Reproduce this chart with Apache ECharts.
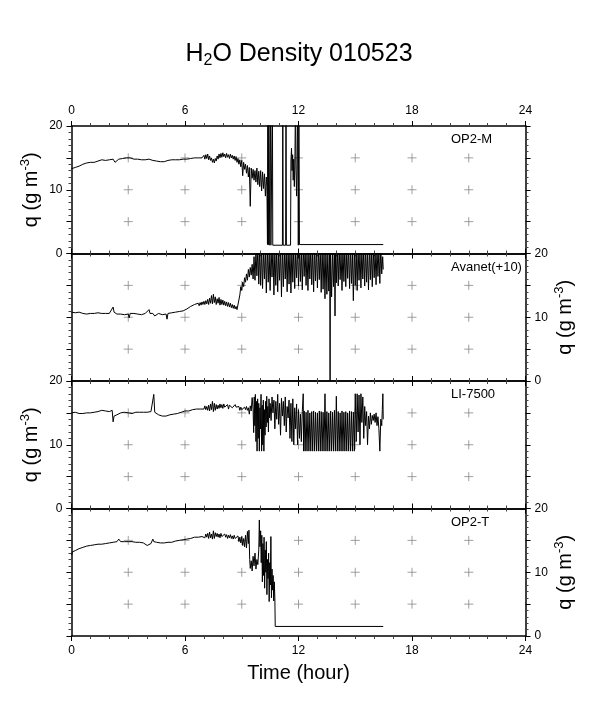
<!DOCTYPE html>
<html><head><meta charset="utf-8">
<script src="https://cdn.jsdelivr.net/npm/echarts@6/dist/echarts.min.js"></script>
<style>html,body{margin:0;padding:0;background:#fff}#c{width:598px;height:709px}</style>
</head><body><div id="c"></div>
<script>
// ---- data (hour, q g m-3) ----
const crossHours = [3,6,9,12,15,18,21];
const crossLevels = [5,10,15];
const panelNames = ['OP2-M','Avanet(+10)','LI-7500','OP2-T'];

const op2m = [[0,13.3],[0.1,13.6],[0.2,13.5],[0.3,13.8],[0.4,13.7],[0.5,13.9],[0.6,14.0],[0.7,13.8],[0.8,14.2],[0.9,14.1],
[1.0,14.3],[1.1,14.4],[1.2,14.3],[1.3,14.6],[1.4,14.5],[1.5,14.6],[1.6,14.7],[1.7,14.5],[1.8,14.6],[1.9,14.4],
[2.0,14.7],[2.1,14.6],[2.2,14.8],[2.3,14.3],[2.4,14.6],[2.5,14.8],[2.6,14.7],[2.7,14.9],[2.8,14.8],[2.9,15.0],
[3.0,14.9],[3.1,15.0],[3.2,14.8],[3.3,14.8],[3.4,14.7],[3.5,14.8],[3.6,14.6],[3.7,14.7],[3.8,14.5],[3.9,14.7],
[4.0,14.6],[4.1,14.8],[4.2,14.5],[4.3,14.6],[4.4,14.4],[4.5,14.5],[4.6,14.3],[4.7,14.4],[4.8,14.5],[4.9,14.4],
[5.0,14.5],[5.1,14.6],[5.2,14.5],[5.3,14.7],[5.4,14.6],[5.5,14.7],[5.6,14.8],[5.7,14.7],[5.8,14.9],[5.9,14.8],
[6.0,14.9],[6.1,14.8],[6.2,15.0],[6.3,14.9],[6.4,15.1],[6.5,15.0],[6.6,15.2],[6.7,15.0],[6.8,15.3],[6.9,15.0],
[7.00,15.4],[7.05,14.8],[7.10,15.5],[7.15,14.9],[7.20,15.6],[7.25,14.7],[7.30,15.3],[7.35,14.6],[7.40,15.0],[7.45,14.3],
[7.50,14.8],[7.55,14.2],[7.60,14.9],[7.65,14.5],[7.70,15.3],[7.75,14.8],[7.80,15.6],[7.85,15.0],[7.90,15.7],[7.95,15.1],
[8.00,15.8],[8.05,15.2],[8.10,15.6],[8.15,15.0],[8.20,15.7],[8.25,15.1],[8.30,15.5],[8.35,14.9],[8.40,15.6],[8.45,15.0],
[8.50,15.4],[8.55,14.8],[8.60,15.3],[8.65,14.6],[8.70,15.2],[8.75,14.3],[8.80,14.9],[8.85,14.0],[8.90,14.7],[8.95,13.6],
[9.00,14.6],[9.05,12.2],[9.10,14.3],[9.15,13.2],[9.20,14.0],[9.25,12.6],[9.30,13.8],[9.35,12.0],[9.40,13.5],[9.45,7.4],
[9.50,13.4],[9.55,11.8],[9.60,13.2],[9.65,11.5],[9.70,13.0],[9.75,11.2],[9.80,13.4],[9.85,10.8],[9.90,12.9],[9.95,10.5],
[10.00,13.0],[10.05,9.8],[10.10,12.8],[10.15,10.2],[10.20,12.5],[10.25,9.0],[10.30,12.0],[10.33,10.5],
[10.36,1.4],[10.38,25],[10.40,1.4],[10.43,25],[10.45,1.3],[10.50,1.3],[10.52,25],[10.54,1.3],[10.60,1.3],[10.62,25],[10.64,1.3],
[11.15,1.3],[11.17,25],[11.19,1.3],[11.32,1.3],[11.34,25],[11.36,1.3],[11.58,1.3],[11.60,14.5],[11.63,16.5],[11.66,13.0],
[11.69,15.5],[11.72,11.5],[11.75,14.8],[11.78,10.5],[11.81,14.0],[11.84,25],[11.87,13.0],[11.90,9.0],[11.93,14.0],[11.96,25],
[11.99,1.3],[12.02,25],[12.05,1.4],[12.10,1.4],[16.48,1.4]];

const avanet = [[0,10.8],[0.1,10.6],[0.2,10.7],[0.3,10.5],[0.4,10.8],[0.5,10.7],[0.6,10.6],[0.7,10.8],[0.8,10.5],[0.9,10.7],
[1.0,10.6],[1.1,10.4],[1.2,10.6],[1.3,10.5],[1.4,10.7],[1.5,10.5],[1.6,10.6],[1.7,10.4],[1.8,10.6],[1.9,10.5],
[2.0,10.6],[2.1,10.7],[2.2,11.6],[2.25,10.8],[2.3,10.6],[2.4,10.5],[2.5,10.6],[2.6,10.5],[2.7,10.6],[2.8,10.4],[2.9,10.6],
[3.0,10.5],[3.05,9.9],[3.1,10.6],[3.2,10.5],[3.3,10.6],[3.4,10.3],[3.5,10.5],[3.6,10.6],[3.7,10.4],[3.8,10.5],[3.9,10.6],
[4.0,10.5],[4.1,11.2],[4.15,10.6],[4.2,10.5],[4.3,10.6],[4.4,10.2],[4.5,10.5],[4.6,10.6],[4.7,10.5],[4.8,10.4],[4.9,10.6],
[5.0,10.5],[5.05,9.7],[5.1,10.6],[5.2,10.5],[5.3,10.7],[5.4,10.6],[5.5,10.8],[5.6,10.7],[5.7,10.9],[5.8,10.8],[5.9,11.0],
[6.0,11.0],[6.1,11.3],[6.2,11.4],[6.3,11.7],[6.4,11.8],[6.5,12.0],[6.6,11.9],[6.7,12.2],
[6.75,11.8],[6.80,12.3],[6.85,11.9],[6.90,12.4],[6.95,12.0],[7.00,12.5],[7.05,12.0],[7.10,12.6],[7.15,12.1],[7.20,12.8],
[7.25,12.0],[7.30,13.0],[7.35,12.2],[7.40,13.4],[7.45,12.1],[7.50,13.6],[7.55,12.3],[7.60,13.2],[7.65,12.0],[7.70,12.9],
[7.75,12.2],[7.80,13.1],[7.85,11.9],[7.90,12.8],[7.95,12.0],[8.00,12.7],[8.05,11.9],[8.10,12.5],[8.15,11.8],[8.20,12.4],
[8.25,11.7],[8.30,12.3],[8.35,11.6],[8.40,12.2],[8.45,11.5],[8.50,12.0],[8.55,11.4],[8.60,11.9],[8.65,11.3],[8.70,11.7],
[8.75,11.2],[8.80,11.5],[8.85,11.3],
[8.90,13.5],[8.95,14.8],[9.00,14.2],[9.05,15.5],[9.10,14.8],[9.15,16.2],[9.20,15.5],[9.25,16.8],[9.30,15.8],[9.35,17.5],
[9.40,16.3],[9.45,17.8],[9.50,16.6],[9.55,18.3],[9.60,16.0],[9.65,19.5],[9.70,15.8],[9.75,20.5],[9.80,16.5],[9.85,21],
[9.90,15.2],[9.95,20.8],
[10.00,15.0],[10.05,21],[10.10,14.5],[10.15,20.5],[10.20,16.0],[10.25,21],[10.30,13.8],[10.35,21],[10.40,15.5],[10.45,20],
[10.50,14.2],[10.55,21],[10.60,16.3],[10.65,21],[10.70,13.5],[10.75,20.8],[10.80,15.0],[10.85,21],[10.90,14.0],[10.95,20.5],
[11.00,15.8],[11.05,21],[11.10,13.2],[11.15,21],[11.20,14.8],[11.25,20.2],[11.30,16.0],[11.35,21],[11.40,14.0],[11.45,21],
[11.50,15.2],[11.55,20.6],[11.60,13.8],[11.65,21],[11.70,15.5],[11.75,21],[11.80,14.5],[11.85,20.4],[11.90,16.2],[11.95,21],
[12.00,14.9],[12.05,21],[12.10,15.6],[12.15,20.8],[12.20,14.3],[12.25,21],[12.30,16.4],[12.35,21],[12.40,15.0],[12.45,20.3],
[12.50,14.2],[12.55,21],[12.60,16.0],[12.65,21],[12.70,15.1],[12.75,20.7],[12.80,14.0],[12.85,21],[12.90,15.7],[12.95,21],
[13.00,14.6],[13.05,20.5],[13.10,15.9],[13.15,21],[13.20,13.9],[13.25,21],[13.30,14.4],[13.35,20.6],[13.40,12.9],[13.45,21],
[13.50,13.6],[13.55,20.2],[13.60,14.1],[13.65,21],[13.67,0.0],[13.69,21],[13.75,13.2],[13.80,20.5],[13.85,14.8],[13.90,21],
[13.93,10.2],[13.96,21],[14.00,15.4],[14.05,20.8],[14.10,14.9],[14.15,21],[14.20,15.9],[14.25,20.4],[14.30,14.2],[14.35,21],
[14.40,15.6],[14.45,21],[14.50,14.8],[14.55,20.6],[14.60,16.1],[14.65,21],[14.70,14.5],[14.75,21],[14.80,15.3],[14.85,20.3],
[14.90,12.6],[14.95,21],[15.00,15.0],[15.05,20.9],[15.10,14.2],[15.15,21],[15.20,15.8],[15.25,20.5],[15.30,14.6],[15.35,21],
[15.40,16.0],[15.45,20.7],[15.50,14.9],[15.55,21],[15.60,15.5],[15.65,20.2],[15.70,14.3],[15.75,21],[15.80,15.9],[15.85,20.8],
[15.90,14.8],[15.95,21],[16.00,16.2],[16.05,20.5],[16.10,15.1],[16.15,21],[16.20,16.4],[16.25,20.6],[16.30,15.3],[16.35,21],
[16.40,16.8],[16.45,19.5],[16.48,17.5]];

const li7500 = [[0,15.0],[0.1,14.9],[0.2,15.1],[0.3,14.8],[0.4,14.9],[0.5,14.7],[0.6,14.9],[0.7,14.8],[0.8,15.0],[0.9,15.1],
[1.0,15.0],[1.1,15.2],[1.2,15.1],[1.3,15.3],[1.4,15.2],[1.5,15.3],[1.6,15.4],[1.7,15.2],[1.8,15.3],[1.9,15.1],
[2.0,15.2],[2.1,14.9],[2.15,15.4],[2.2,13.6],[2.25,14.5],[2.3,14.2],[2.4,14.7],[2.5,14.9],[2.6,15.0],[2.7,14.9],[2.8,15.1],[2.9,15.0],
[3.0,15.0],[3.1,15.1],[3.2,14.9],[3.3,15.0],[3.4,15.1],[3.5,15.0],[3.6,15.1],[3.7,15.0],[3.8,15.1],[3.9,15.2],
[4.0,15.1],[4.1,15.3],[4.2,15.2],[4.3,15.4],[4.35,17.9],[4.4,15.1],[4.5,14.8],[4.6,14.7],[4.7,14.6],[4.8,14.5],[4.9,14.6],
[5.0,14.5],[5.1,14.6],[5.2,14.7],[5.3,14.6],[5.4,14.8],[5.5,14.8],[5.6,14.9],[5.7,15.0],[5.8,15.1],[5.9,15.2],
[6.0,15.3],[6.1,15.4],[6.2,15.3],[6.3,15.6],[6.4,15.5],[6.5,15.7],[6.6,15.6],[6.7,15.8],[6.8,15.6],[6.9,15.9],
[7.00,15.6],[7.05,16.1],[7.10,15.5],[7.15,16.0],[7.20,15.4],[7.25,16.2],[7.30,15.3],[7.35,16.4],[7.40,15.5],[7.45,16.8],
[7.50,15.2],[7.55,16.5],[7.60,15.4],[7.65,16.3],[7.70,15.6],[7.75,16.2],[7.80,15.7],[7.85,16.4],[7.90,15.8],[7.95,16.3],
[8.00,15.7],[8.05,16.4],[8.10,15.9],[8.15,16.2],[8.20,15.8],[8.25,16.3],[8.30,15.6],[8.35,16.2],[8.40,15.9],[8.45,16.4],
[8.50,15.8],[8.55,16.1],[8.60,15.7],[8.65,16.3],[8.70,15.9],[8.75,16.2],[8.80,15.6],[8.85,16.0],[8.90,15.4],[8.95,15.9],
[9.00,15.5],[9.05,15.8],[9.10,15.4],[9.15,15.9],[9.20,15.5],[9.25,16.0],[9.30,15.4],[9.35,15.8],[9.40,14.8],[9.45,16.1],
[9.50,15.3],[9.55,17.4],[9.60,15.5],
[9.63,11.9],[9.66,17.5],[9.69,13.0],[9.72,17.9],[9.75,10.5],[9.78,16.8],[9.81,9.0],[9.84,17.2],[9.87,11.0],[9.90,16.5],
[9.93,9.0],[9.96,15.8],[9.99,12.5],[10.02,17.9],[10.05,9.0],[10.08,16.2],[10.11,10.0],[10.14,17.0],[10.17,9.0],[10.20,15.5],
[10.23,11.5],[10.26,16.8],[10.29,12.8],[10.32,17.6],[10.35,13.5],[10.38,16.0],[10.41,12.0],[10.44,17.2],[10.47,14.2],[10.50,16.5],
[10.55,13.8],[10.60,17.5],[10.65,15.0],[10.70,17.0],[10.75,12.5],[10.80,16.8],[10.85,14.0],[10.90,17.9],[10.95,13.2],[11.00,16.5],
[11.05,11.5],[11.10,17.3],[11.15,14.5],[11.20,16.8],[11.25,13.0],[11.30,17.5],[11.35,12.0],[11.40,16.0],[11.45,14.2],[11.50,17.0],
[11.55,11.0],[11.60,16.5],[11.65,10.5],[11.70,17.2],[11.75,10.0],[11.80,15.8],[11.85,12.5],[11.90,16.4],[11.95,10.0],[12.00,15.5],
[12.05,11.0],[12.10,14.8],[12.15,10.5],[12.20,15.2],[12.25,18.0],[12.27,9.0],
[12.30,15.3],[12.35,9.0],[12.40,15.1],[12.45,9.0],[12.50,15.4],[12.55,9.0],[12.60,15.0],[12.65,9.0],[12.70,15.2],[12.75,9.0],
[12.80,15.3],[12.85,9.0],[12.90,15.1],[12.95,9.0],[13.00,15.0],[13.05,9.0],[13.10,15.3],[13.15,9.0],[13.20,15.2],[13.25,9.0],
[13.30,15.1],[13.35,9.0],[13.40,18.0],[13.45,9.0],[13.50,15.2],[13.55,9.0],[13.60,15.0],[13.65,9.0],[13.70,15.3],[13.75,9.0],
[13.80,15.1],[13.85,9.0],[13.90,15.4],[13.95,9.0],[14.00,17.6],[14.05,9.0],[14.10,15.2],[14.15,9.0],[14.20,15.0],[14.25,9.0],
[14.30,15.3],[14.35,9.0],[14.40,15.1],[14.45,9.0],[14.50,15.2],[14.55,9.0],[14.60,15.0],[14.65,9.0],[14.70,15.3],[14.75,9.0],
[14.80,15.2],[14.85,9.0],[14.90,15.1],[14.95,9.0],
[15.00,18.0],[15.05,10.5],[15.10,18.0],[15.15,12.0],[15.20,17.8],[15.25,10.0],[15.30,18.0],[15.35,13.5],[15.40,17.5],[15.45,11.0],
[15.50,16.0],[15.55,13.0],[15.60,15.2],[15.65,10.0],[15.70,14.5],[15.75,12.5],[15.80,15.0],[15.85,13.2],[15.90,14.6],[15.95,13.8],
[16.00,14.8],[16.05,13.5],[16.10,15.0],[16.15,13.0],[16.20,14.4],[16.25,12.5],[16.30,9.0],[16.35,14.0],[16.40,13.0],[16.43,15.5],
[16.46,18.0],[16.48,14.0]];

const op2t = [[0,12.7],[0.05,13.2],[0.1,13.0],[0.2,13.4],[0.3,13.3],[0.4,13.7],[0.5,13.6],[0.6,13.9],[0.7,13.8],[0.8,14.1],[0.9,13.9],
[1.0,14.2],[1.1,14.0],[1.2,14.3],[1.3,14.2],[1.4,14.4],[1.5,14.3],[1.6,14.4],[1.7,14.3],[1.8,14.5],[1.9,14.4],
[2.0,14.6],[2.1,14.5],[2.2,14.7],[2.3,14.6],[2.4,14.8],[2.5,15.2],[2.6,14.8],[2.7,14.9],[2.8,14.8],[2.9,14.7],
[3.0,14.8],[3.1,14.7],[3.2,14.8],[3.3,14.6],[3.4,14.7],[3.5,14.6],[3.6,14.7],[3.7,14.5],[3.8,14.6],[3.9,14.4],
[4.0,14.2],[4.05,14.0],[4.1,14.2],[4.2,14.5],[4.3,15.2],[4.35,14.8],[4.4,14.6],[4.5,14.7],[4.6,14.6],[4.7,14.6],[4.8,14.7],[4.9,14.6],
[5.0,14.7],[5.1,14.7],[5.2,14.8],[5.3,14.7],[5.4,14.8],[5.5,14.9],[5.6,14.9],[5.7,15.0],[5.8,15.0],[5.9,15.1],
[6.0,15.1],[6.1,15.2],[6.2,15.3],[6.3,15.3],[6.4,15.4],[6.5,15.5],[6.6,15.6],[6.7,15.5],[6.8,15.7],[6.9,15.6],
[7.00,15.9],[7.05,15.4],[7.10,16.0],[7.15,15.5],[7.20,16.1],[7.25,15.3],[7.30,16.3],[7.35,15.4],[7.40,16.0],[7.45,15.2],
[7.50,16.5],[7.55,15.3],[7.60,16.2],[7.65,15.6],[7.70,16.1],[7.75,15.5],[7.80,16.0],[7.85,15.4],[7.90,16.1],[7.95,15.6],
[8.00,15.9],[8.05,15.4],[8.10,16.0],[8.15,15.5],[8.20,15.9],[8.25,15.3],[8.30,15.8],[8.35,15.4],[8.40,15.9],[8.45,15.3],
[8.50,15.7],[8.55,15.2],[8.60,15.8],[8.65,15.3],[8.70,15.6],[8.75,15.0],[8.80,15.7],[8.85,14.8],[8.90,15.5],[8.95,14.6],
[9.00,15.6],[9.05,14.2],[9.10,15.3],[9.15,14.0],[9.20,15.8],[9.25,13.8],[9.30,16.4],[9.35,14.5],[9.38,16.6],[9.42,12.0],
[9.45,10.6],[9.50,11.8],[9.55,10.2],[9.60,12.5],[9.65,11.0],[9.70,13.0],[9.75,10.5],[9.80,12.0],[9.85,11.2],[9.90,13.5],
[9.93,18.2],[9.96,14.0],[10.00,16.5],[10.03,11.5],[10.06,15.8],[10.09,8.5],[10.12,14.5],[10.15,9.5],[10.18,15.5],[10.21,7.5],
[10.24,13.5],[10.27,10.0],[10.30,14.8],[10.33,6.5],[10.36,12.0],[10.39,9.0],[10.42,13.0],[10.45,5.4],[10.48,11.5],[10.51,8.0],
[10.54,15.6],[10.57,6.0],[10.60,10.5],[10.63,7.2],[10.66,9.5],[10.69,5.5],[10.72,8.5],[10.75,6.0],[10.77,1.5],[16.48,1.5]];

const panelData = [op2m, avanet, li7500, op2t];

// ---- layout ----
const FONT = '"Liberation Sans", Arial, Helvetica, sans-serif';
const LEFT = 71.5, WIDTH = 454, H = 127.5;
const TOPS = [126, 253.5, 381, 508.5];
const labelSide = ['left','right','left','right'];
const labelY = [139, 267, 394, 522];

const grids = [], xAxes = [], yAxes = [], series = [], graphics = [];
const qName = '{a|q (g m}{s|-3}{a|)}';
const qRich = {
  a: {fontSize: 20, fontFamily: FONT, color: '#000', lineHeight: 26},
  s: {fontSize: 13, fontFamily: FONT, color: '#000', lineHeight: 26, verticalAlign: 'top'}
};

function xAxisDef(g, pos, showLabels, name) {
  return {
    type: 'value', gridIndex: g, position: pos, min: 0, max: 24, interval: 6,
    axisLine: {show: true, onZero: false, lineStyle: {color: '#000', width: 1.5}},
    axisTick: {show: true, inside: false, length: 5, lineStyle: {color: '#000', width: 1}},
    minorTick: {show: true, splitNumber: 6, length: 3, lineStyle: {color: '#444', width: 1}},
    splitLine: {show: false}, minorSplitLine: {show: false},
    axisLabel: {show: showLabels, fontSize: 12, fontFamily: FONT, color: '#000', margin: 9},
    name: name || '', nameLocation: 'middle', nameGap: 27, nameMoveOverlap: false,
    nameTextStyle: {fontSize: 20, fontFamily: FONT, color: '#000'}
  };
}
function yAxisDef(g, pos, showLabels) {
  return {
    type: 'value', gridIndex: g, position: pos, min: 0, max: 20, interval: 5,
    axisLine: {show: true, onZero: false, lineStyle: {color: '#000', width: 1.5}},
    axisTick: {show: true, inside: false, length: 5, lineStyle: {color: '#000', width: 1}},
    minorTick: {show: true, splitNumber: 5, length: 3, lineStyle: {color: '#444', width: 1}},
    splitLine: {show: false}, minorSplitLine: {show: false},
    axisLabel: {show: showLabels, fontSize: 12, fontFamily: FONT, color: '#000', margin: 9,
      formatter: v => (v % 10 === 0 ? String(v) : '')},
    name: showLabels ? qName : '', nameLocation: 'middle', nameRotate: 90,
    nameGap: 27, nameMoveOverlap: false,
    nameTextStyle: {fontSize: 20, fontFamily: FONT, color: '#000', rich: qRich}
  };
}

const crossData = [];
crossHours.forEach(h => crossLevels.forEach(l => crossData.push([h, l])));

for (let i = 0; i < 4; i++) {
  grids.push({left: LEFT, width: WIDTH, top: TOPS[i], height: H, containLabel: false, outerBoundsMode: 'none'});
  xAxes.push(xAxisDef(i, 'bottom', i === 3, i === 3 ? 'Time (hour)' : ''));
  xAxes.push(xAxisDef(i, 'top', i === 0, ''));
  yAxes.push(yAxisDef(i, 'left', labelSide[i] === 'left'));
  yAxes.push(yAxisDef(i, 'right', labelSide[i] === 'right'));
  series.push({
    type: 'scatter', xAxisIndex: 2 * i, yAxisIndex: 2 * i, data: crossData, silent: true, z: 1,
    symbol: 'path://M0,5L10,5M5,0L5,10', symbolSize: 9,
    itemStyle: {color: 'none', borderColor: '#888', borderWidth: 1}
  });
  series.push({
    type: 'line', xAxisIndex: 2 * i, yAxisIndex: 2 * i, data: panelData[i], z: 3,
    showSymbol: false, symbol: 'none', clip: true, silent: true,
    lineStyle: {color: '#000', width: 1.0}
  });
  graphics.push({type: 'text', x: 451, y: labelY[i], z: 10,
    style: {text: panelNames[i], fontSize: 13, fontFamily: FONT, fill: '#000', align: 'left', verticalAlign: 'middle'}});
}

const chart = echarts.init(document.getElementById('c'), null, {renderer: 'canvas'});
chart.setOption({
  animation: false,
  backgroundColor: '#fff',
  title: {
    text: '{a|H}{b|2}{a|O Density 010523}', left: 'center', top: 34,
    textStyle: {fontWeight: 'normal', rich: {
      a: {fontSize: 25, fontFamily: FONT, fontWeight: 'normal', color: '#000', lineHeight: 30},
      b: {fontSize: 16, fontFamily: FONT, fontWeight: 'normal', color: '#000', lineHeight: 30, verticalAlign: 'bottom'}
    }}
  },
  grid: grids, xAxis: xAxes, yAxis: yAxes, series: series, graphic: graphics,
  tooltip: {show: false}
});
</script></body></html>
